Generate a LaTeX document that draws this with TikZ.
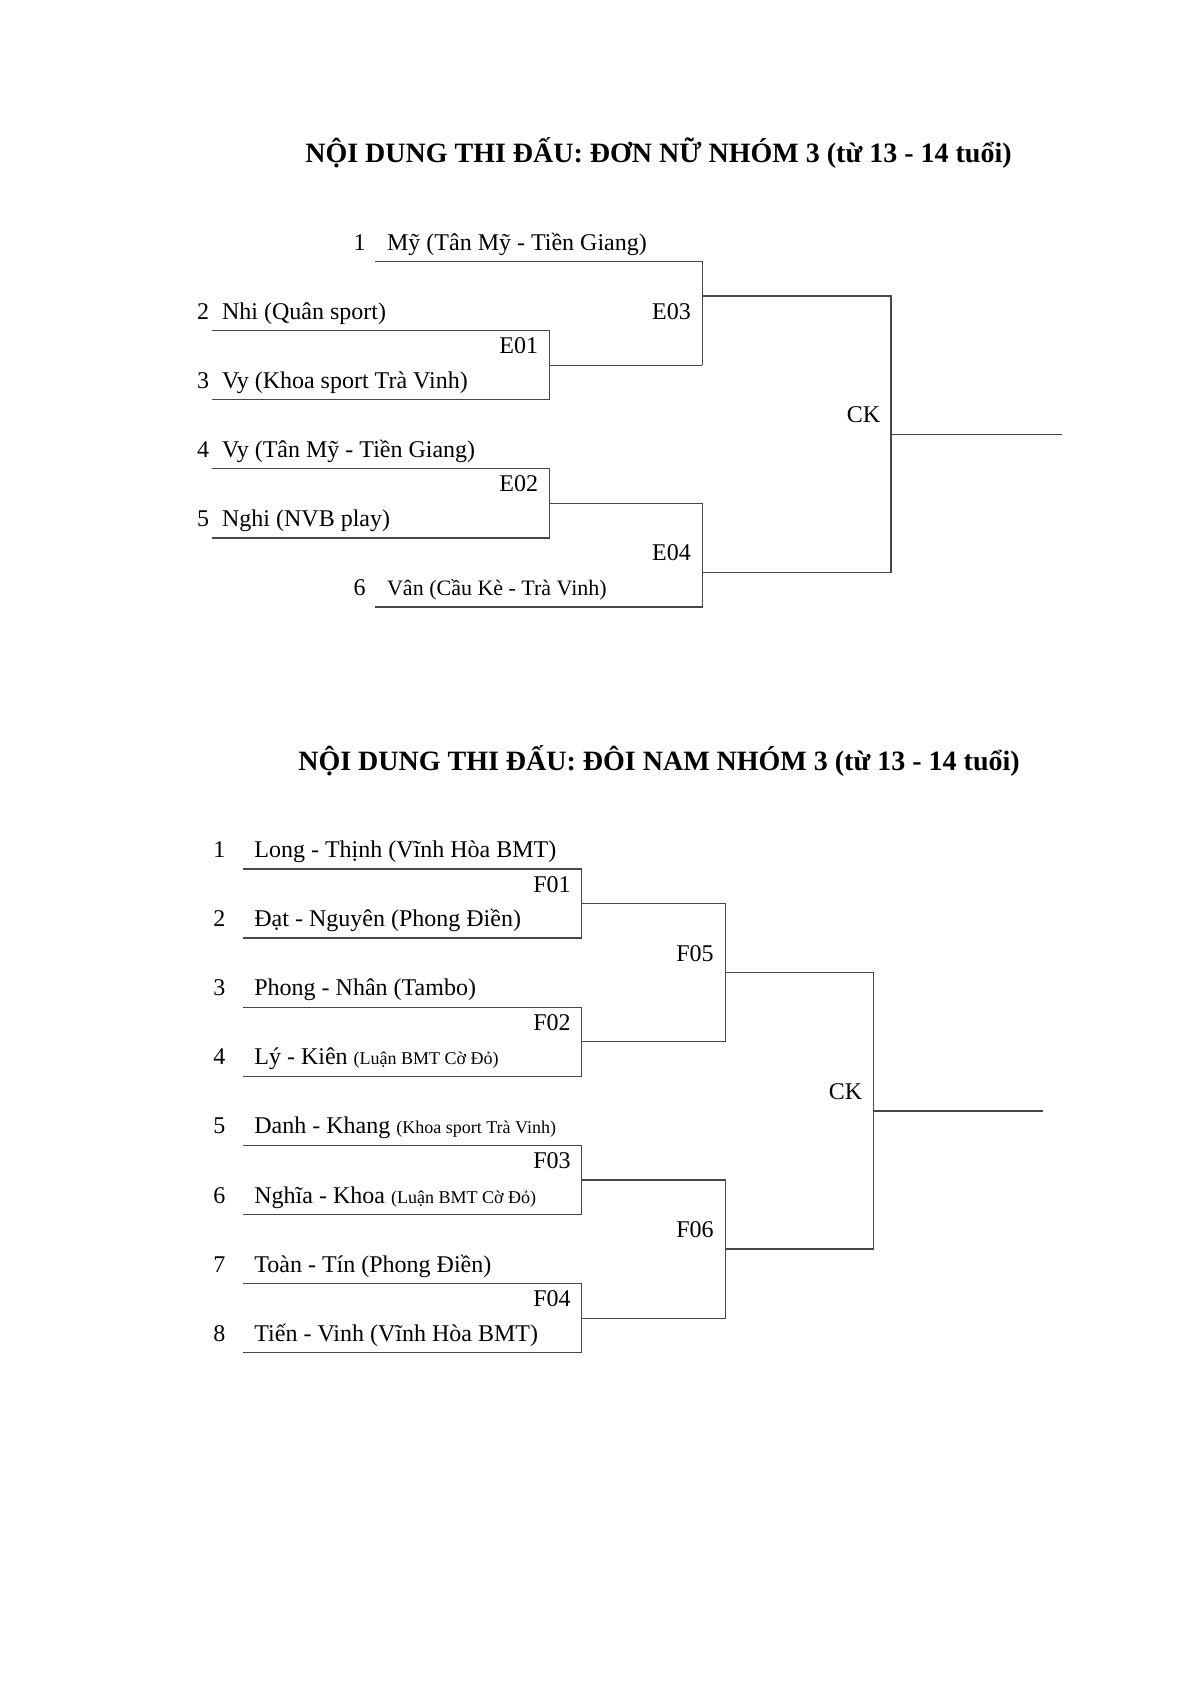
\documentclass[tikz,border=0pt]{standalone}
\usepackage{fontspec}
\setmainfont{Liberation Serif}
\newcommand\smallpart[1]{{\fontsize{9}{10}\selectfont #1}}
\newcommand\ya[1]{{261.5+34.55*#1}}
\newcommand\yb[1]{{869+34.55*#1}}
\newcommand\ta[1]{{261.5+34.55*#1-11.5}}
\newcommand\tb[1]{{869+34.55*#1-11.5}}
\begin{document}
\begin{tikzpicture}[x=0.5pt,y=-0.5pt,
  ln/.style={draw=black!72,line width=0.65pt},
  ent/.style={anchor=base west,inner sep=0pt,font=\fontsize{12}{14}\selectfont},
  lab/.style={anchor=base east,inner sep=0pt,font=\fontsize{12}{14}\selectfont},
  ttl/.style={anchor=base,inner sep=0pt,font=\fontsize{14}{16}\selectfont\bfseries}]
\useasboundingbox (0,0) rectangle (1190,1683);

% ---------------- Bracket 1 ----------------
\node[ttl] (title1) at (658.5,162.4) {NỘI DUNG THI ĐẤU: ĐƠN NỮ NHÓM 3 (từ 13 - 14 tuổi)};

\coordinate (a-p1) at (375,\ya{0});
\coordinate (a-p2) at (211.5,\ya{2});
\coordinate (a-p3) at (211.5,\ya{4});
\coordinate (a-p4) at (211.5,\ya{6});
\coordinate (a-p5) at (211.5,\ya{8});
\coordinate (a-p6) at (375,\ya{10});
\coordinate (E01-t) at (549.3,\ya{2});
\coordinate (E01-b) at (549.3,\ya{4});
\coordinate (E01-o) at (549.3,\ya{3});
\coordinate (E02-t) at (549.3,\ya{6});
\coordinate (E02-b) at (549.3,\ya{8});
\coordinate (E02-o) at (549.3,\ya{7});
\coordinate (E03-t) at (702.3,\ya{0});
\coordinate (E03-b) at (702.3,\ya{3});
\coordinate (E03-o) at (702.3,\ya{1});
\coordinate (E04-t) at (702.3,\ya{7});
\coordinate (E04-b) at (702.3,\ya{10});
\coordinate (E04-o) at (702.3,\ya{9});
\coordinate (CKa-t) at (891,\ya{1});
\coordinate (CKa-b) at (891,\ya{9});
\coordinate (CKa-o) at (891,\ya{5});
\coordinate (CKa-e) at (1061.7,\ya{5});

\draw[ln] (a-p1) -- (E03-t) -- (E03-b);
\draw[ln] (a-p2) -- (E01-t) -- (E01-b) -- (a-p3);
\draw[ln] (E01-o) -- (E03-b);
\draw[ln] (a-p4) -- (E02-t) -- (E02-b) -- (a-p5);
\draw[ln] (E02-o) -- (E04-t) -- (E04-b) -- (a-p6);
\draw[ln] (E03-o) -- (CKa-t) -- (CKa-b) -- (E04-o);
\draw[ln] (CKa-o) -- (CKa-e);

\node[ent] (an1) at (353.3,\ta{0}) {1};
\node[ent] (at1) at (386.7,\ta{0}) {Mỹ (Tân Mỹ - Tiền Giang)};
\node[ent] (an2) at (196.6,\ta{2}) {2};
\node[ent] (at2) at (221.7,\ta{2}) {Nhi (Quân sport)};
\node[ent] (an3) at (196.6,\ta{4}) {3};
\node[ent] (at3) at (221.7,\ta{4}) {Vy (Khoa sport Trà Vinh)};
\node[ent] (an4) at (196.6,\ta{6}) {4};
\node[ent] (at4) at (221.7,\ta{6}) {Vy (Tân Mỹ - Tiền Giang)};
\node[ent] (an5) at (196.6,\ta{8}) {5};
\node[ent] (at5) at (221.7,\ta{8}) {Nghi (NVB play)};
\node[ent] (an6) at (353.3,\ta{10}) {6};
\node[ent,font=\fontsize{11}{13}\selectfont] (at6) at (386.7,\ta{10}) {Vân (Cầu Kè - Trà Vinh)};

\node[lab] (lE01) at (538.5,\ta{3}) {E01};
\node[lab] (lE02) at (538.5,\ta{7}) {E02};
\node[lab] (lE03) at (691.3,\ta{2}) {E03};
\node[lab] (lE04) at (691.3,\ta{9}) {E04};
\node[lab] (lCKa) at (880.5,\ta{5}) {CK};

% ---------------- Bracket 2 ----------------
\node[ttl] (title2) at (659,770) {NỘI DUNG THI ĐẤU: ĐÔI NAM NHÓM 3 (từ 13 - 14 tuổi)};

\foreach \i/\k in {1/0,2/2,3/4,4/6,5/8,6/10,7/12,8/14}{
  \coordinate (b-p\i) at (243,\yb{\k});
}
\coordinate (F01-t) at (581.5,\yb{0});
\coordinate (F01-b) at (581.5,\yb{2});
\coordinate (F01-o) at (581.5,\yb{1});
\coordinate (F02-t) at (581.5,\yb{4});
\coordinate (F02-b) at (581.5,\yb{6});
\coordinate (F02-o) at (581.5,\yb{5});
\coordinate (F03-t) at (581.5,\yb{8});
\coordinate (F03-b) at (581.5,\yb{10});
\coordinate (F03-o) at (581.5,\yb{9});
\coordinate (F04-t) at (581.5,\yb{12});
\coordinate (F04-b) at (581.5,\yb{14});
\coordinate (F04-o) at (581.5,\yb{13});
\coordinate (F05-t) at (725.4,\yb{1});
\coordinate (F05-b) at (725.4,\yb{5});
\coordinate (F05-o) at (725.4,\yb{3});
\coordinate (F06-t) at (725.4,\yb{9});
\coordinate (F06-b) at (725.4,\yb{13});
\coordinate (F06-o) at (725.4,\yb{11});
\coordinate (CKb-t) at (873.5,\yb{3});
\coordinate (CKb-b) at (873.5,\yb{11});
\coordinate (CKb-o) at (873.5,\yb{7});
\coordinate (CKb-e) at (1043,\yb{7});

\draw[ln] (b-p1) -- (F01-t) -- (F01-b) -- (b-p2);
\draw[ln] (b-p3) -- (F02-t) -- (F02-b) -- (b-p4);
\draw[ln] (b-p5) -- (F03-t) -- (F03-b) -- (b-p6);
\draw[ln] (b-p7) -- (F04-t) -- (F04-b) -- (b-p8);
\draw[ln] (F01-o) -- (F05-t) -- (F05-b) -- (F02-o);
\draw[ln] (F03-o) -- (F06-t) -- (F06-b) -- (F04-o);
\draw[ln] (F05-o) -- (CKb-t) -- (CKb-b) -- (F06-o);
\draw[ln] (CKb-o) -- (CKb-e);

\node[ent] (bn1) at (213,\tb{0}) {1};
\node[ent] (bt1) at (254,\tb{0}) {Long - Thịnh (Vĩnh Hòa BMT)};
\node[ent] (bn2) at (213,\tb{2}) {2};
\node[ent] (bt2) at (254,\tb{2}) {Đạt - Nguyên (Phong Điền)};
\node[ent] (bn3) at (213,\tb{4}) {3};
\node[ent] (bt3) at (254,\tb{4}) {Phong - Nhân (Tambo)};
\node[ent] (bn4) at (213,\tb{6}) {4};
\node[ent] (bt4) at (254,\tb{6}) {Lý - Kiên \smallpart{(Luận BMT Cờ Đỏ)}};
\node[ent] (bn5) at (213,\tb{8}) {5};
\node[ent] (bt5) at (254,\tb{8}) {Danh - Khang \smallpart{(Khoa sport Trà Vinh)}};
\node[ent] (bn6) at (213,\tb{10}) {6};
\node[ent] (bt6) at (254,\tb{10}) {Nghĩa - Khoa \smallpart{(Luận BMT Cờ Đỏ)}};
\node[ent] (bn7) at (213,\tb{12}) {7};
\node[ent] (bt7) at (254,\tb{12}) {Toàn - Tín (Phong Điền)};
\node[ent] (bn8) at (213,\tb{14}) {8};
\node[ent] (bt8) at (254,\tb{14}) {Tiến - Vinh (Vĩnh Hòa BMT)};

\node[lab] (lF01) at (571,\tb{1}) {F01};
\node[lab] (lF02) at (571,\tb{5}) {F02};
\node[lab] (lF03) at (571,\tb{9}) {F03};
\node[lab] (lF04) at (571,\tb{13}) {F04};
\node[lab] (lF05) at (714,\tb{3}) {F05};
\node[lab] (lF06) at (714,\tb{11}) {F06};
\node[lab] (lCKb) at (862.5,\tb{7}) {CK};
\end{tikzpicture}
\end{document}
